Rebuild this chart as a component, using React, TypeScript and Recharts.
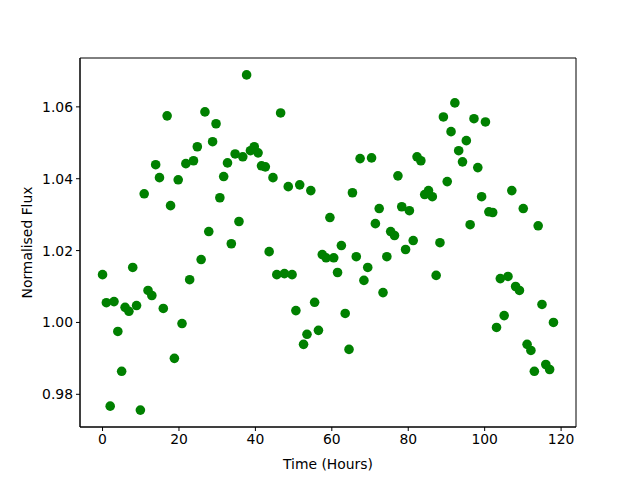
import { ScatterChart, Scatter, XAxis, YAxis, ReferenceArea } from 'recharts'

// time of each sample, hours
const hours = [
  0.0, 1.0, 2.0, 3.0, 4.0, 5.0, 5.9, 6.9, 7.9, 8.9,
  9.9, 10.9, 11.9, 12.9, 13.9, 14.9, 15.9, 16.9, 17.8, 18.8,
  19.8, 20.8, 21.8, 22.8, 23.8, 24.8, 25.8, 26.8, 27.8, 28.8,
  29.7, 30.7, 31.7, 32.7, 33.7, 34.7, 35.7, 36.7, 37.7, 38.7,
  39.7, 40.7, 41.6, 42.6, 43.6, 44.6, 45.6, 46.6, 47.6, 48.6,
  49.6, 50.6, 51.6, 52.6, 53.5, 54.5, 55.5, 56.5, 57.5, 58.5,
  59.5, 60.5, 61.5, 62.5, 63.5, 64.5, 65.4, 66.4, 67.4, 68.4,
  69.4, 70.4, 71.4, 72.4, 73.4, 74.4, 75.4, 76.4, 77.3, 78.3,
  79.3, 80.3, 81.3, 82.3, 83.3, 84.3, 85.3, 86.3, 87.3, 88.3,
  89.2, 90.2, 91.2, 92.2, 93.2, 94.2, 95.2, 96.2, 97.2, 98.2,
  99.2, 100.2, 101.1, 102.1, 103.1, 104.1, 105.1, 106.1, 107.1, 108.1,
  109.1, 110.1, 111.1, 112.1, 113.0, 114.0, 115.0, 116.0, 117.0, 118.0,
]

// normalised flux
const flux = [
  1.0133, 1.0055, 0.9767, 1.0058, 0.9975, 0.9864, 1.0042, 1.0031, 1.0153, 1.0047,
  0.9756, 1.0358, 1.0089, 1.0075, 1.0439, 1.0403, 1.0039, 1.0575, 1.0325, 0.9900,
  1.0397, 0.9997, 1.0442, 1.0119, 1.0450, 1.0489, 1.0175, 1.0586, 1.0253, 1.0503,
  1.0553, 1.0347, 1.0406, 1.0444, 1.0219, 1.0469, 1.0281, 1.0461, 1.0689, 1.0478,
  1.0489, 1.0472, 1.0436, 1.0433, 1.0197, 1.0403, 1.0133, 1.0583, 1.0136, 1.0378,
  1.0133, 1.0033, 1.0383, 0.9939, 0.9967, 1.0367, 1.0056, 0.9978, 1.0189, 1.0180,
  1.0292, 1.0180, 1.0139, 1.0214, 1.0025, 0.9925, 1.0361, 1.0183, 1.0456, 1.0117,
  1.0153, 1.0458, 1.0275, 1.0317, 1.0083, 1.0183, 1.0253, 1.0242, 1.0408, 1.0322,
  1.0203, 1.0311, 1.0228, 1.0461, 1.0450, 1.0356, 1.0367, 1.0350, 1.0131, 1.0222,
  1.0572, 1.0392, 1.0531, 1.0611, 1.0478, 1.0447, 1.0506, 1.0272, 1.0567, 1.0431,
  1.0350, 1.0558, 1.0308, 1.0306, 0.9986, 1.0122, 1.0019, 1.0128, 1.0367, 1.0100,
  1.0089, 1.0317, 0.9939, 0.9922, 0.9864, 1.0269, 1.0050, 0.9883, 0.9869, 1.0000,
]

const xTicks = [0, 20, 40, 60, 80, 100, 120]
const yTicks = [0.98, 1.0, 1.02, 1.04, 1.06]
const xDomain = [-5.9, 123.9]
const yDomain = [0.9709, 1.0736]

const data = hours.map((h, i) => ({ x: h, y: flux[i] }))

const font = { fontFamily: 'DejaVu Sans', fontSize: 13.9, fill: '#000' }
const axisLine = { stroke: '#000', strokeWidth: 1 }

const Dot = ({ cx, cy }: any) => <circle cx={cx} cy={cy} r={4.8} fill="#008000" />

export default function App() {
  return (
    <div style={{ position: 'absolute', left: 0, top: 0, background: '#fff' }}>
      <ScatterChart width={640} height={480} margin={{ top: 58, right: 64, bottom: 3, left: 0 }}>
        <XAxis
          dataKey="x"
          type="number"
          domain={xDomain}
          ticks={xTicks}
          height={50}
          tickSize={4}
          tickMargin={3}
          tick={font}
          axisLine={axisLine}
          tickLine={axisLine}
          label={{ value: 'Time (Hours)', position: 'insideBottom', offset: 8, style: font }}
        />
        <YAxis
          dataKey="y"
          type="number"
          domain={yDomain}
          ticks={yTicks}
          width={80}
          tickSize={4}
          tickMargin={3}
          tick={font}
          tickFormatter={(v: number) => v.toFixed(2)}
          axisLine={axisLine}
          tickLine={axisLine}
          label={{ value: 'Normalised Flux', angle: -90, position: 'insideLeft', offset: 27, style: { ...font, textAnchor: 'middle' } }}
        />
        {/* box round the plot, like matplotlib spines */}
        <ReferenceArea
          x1={xDomain[0]}
          x2={xDomain[1]}
          y1={yDomain[0]}
          y2={yDomain[1]}
          fill="none"
          fillOpacity={0}
          stroke="#000"
          strokeWidth={1}
          ifOverflow="visible"
        />
        <Scatter data={data} shape={Dot} isAnimationActive={false} />
      </ScatterChart>
    </div>
  )
}
